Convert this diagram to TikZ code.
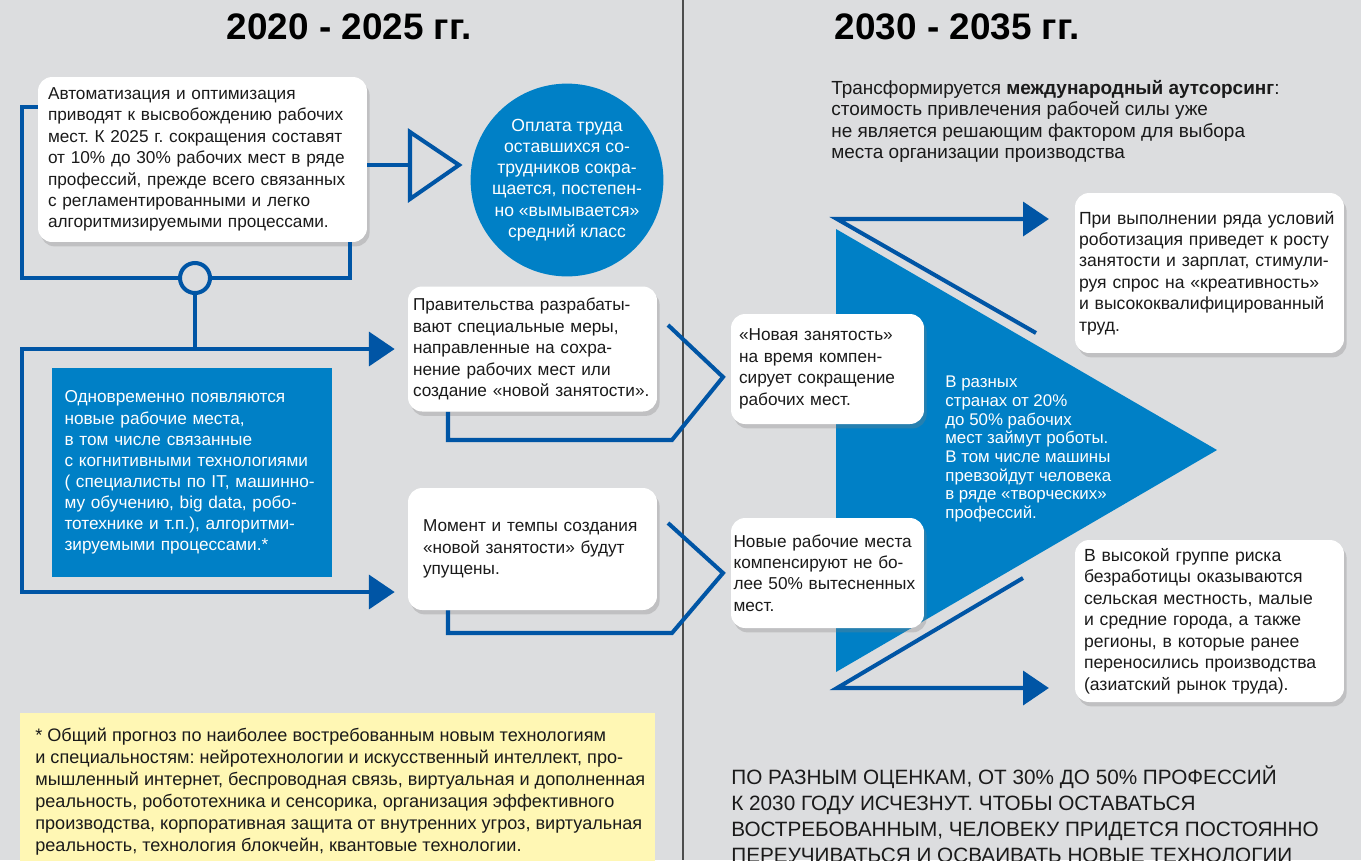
\documentclass[tikz,border=0pt]{standalone}
\usepackage{fontspec}
\setmainfont{Liberation Sans}
\usepackage{xcolor}
\usepackage{tikz}
\usetikzlibrary{shapes,arrows,arrows.meta,positioning,calc,shadows}
\definecolor{bggray}{HTML}{DCDDDF}
\definecolor{lineblue}{HTML}{0055A5}
\definecolor{fillblue}{HTML}{0080C6}
\definecolor{noteyellow}{HTML}{FFF7B4}
\definecolor{divgray}{HTML}{4D4D4D}
\definecolor{ink}{HTML}{1A1A1A}

\begin{document}
\frenchspacing
\begin{tikzpicture}[x=0.02cm,y=-0.02cm,
	link/.style={lineblue,line width=2.3pt},
	arrowline/.style={link,-{Triangle[length=14.7pt,width=19.3pt]},shorten >=7.4pt},
	card/.style={fill=white,text=ink,rounded corners=8pt,inner sep=0pt,align=left,
		font=\fontsize{9.8}{12.2}\selectfont,
		drop shadow={shadow xshift=1.5pt,shadow yshift=-2.5pt,opacity=0.3}},
	bluetext/.style={text=white,inner sep=0pt,align=left},
	yeartitle/.style={font=\fontsize{21}{25}\selectfont\bfseries}]
	\useasboundingbox (0,0) rectangle (1361,860);
	\fill[bggray] (0,0) rectangle (1361,860);
	\draw[divgray,line width=0.9pt] (683,0) -- (683,860);
	\node[yeartitle] (leftyears) at (349,27) {2020 - 2025 гг.};
	\node[yeartitle] (rightyears) at (957,27) {2030 - 2035 гг.};

	% left half
	\node[card,minimum width=6.58cm,minimum height=3.3cm,text width=6.18cm] (autom) at (202.5,159.5)
		{Автоматизация и оптимизация\\приводят к высвобождению рабочих\\мест. К 2025 г. сокращения составят\\от 10\% до 30\% рабочих мест в ряде\\профессий, прежде всего связанных\\с регламентированными и легко\\алгоритмизируемыми процессами.};
	\coordinate (opentip) at (410,165);
	\draw[link] (autom.east |- opentip) -- (opentip);
	\draw[link] (opentip) ++(0,-33) -- ++(0,67) -- ++(49,-34) -- cycle;
	\node[circle,fill=fillblue,text=white,minimum size=3.32cm,inner sep=0pt,align=center,
		font=\fontsize{10}{12.1}\selectfont] (pay) at (567,180)
		{Оплата труда\\оставшихся со-\\трудников сокра-\\щается, постепен-\\но «вымывается»\\средний класс};
	\node[circle,draw=lineblue,line width=2.3pt,fill=bggray,minimum size=0.6cm,inner sep=0pt] (ring) at (195,278) {};
	\draw[link] (autom.west |- 0,107) -| (22,278) -- (ring.west);
	\draw[link] (ring.east) -| (autom.south -| 350,0);
	\draw[link] (ring.south) -- (ring.south |- 0,349);
	\node[fill=fillblue,minimum width=5.6cm,minimum height=4.18cm,text width=5.1cm,bluetext,
		font=\fontsize{9.8}{12}\selectfont] (newjobs) at (192,472.5)
		{Одновременно появляются\\новые рабочие места,\\в том числе связанные\\с когнитивными технологиями\\( специалисты по IT, машинно-\\му обучению, big data, робо-\\тотехнике и т.п.), алгоритми-\\зируемыми процессами.*};
	\node[card,minimum width=4.98cm,minimum height=2.5cm,text width=4.78cm] (gov) at (532.5,349)
		{Правительства разрабаты-\\вают специальные меры,\\направленные на сохра-\\нение рабочих мест или\\создание «новой занятости».};
	\node[card,minimum width=4.98cm,minimum height=2.44cm,text width=4.38cm] (moment) at (532.5,549)
		{Момент и темпы создания\\«новой занятости» будут\\упущены.};
	\draw[arrowline] (22,592) -- (22,349) -- (gov.west);
	\draw[arrowline] (22,349) |- (moment.west |- 0,592);
	\coordinate (govtip) at (723,377);
	\coordinate (momenttip) at (723,573);
	\draw[link] (gov.south -| 448,0) |- (672,440) -- (govtip) -- (668,325);
	\draw[link] (moment.south -| 448,0) |- (672,633) -- (momenttip) -- (668,523);

	\fill[noteyellow] (20,713) rectangle (655,870);
	\node[anchor=north west,inner sep=0pt,align=left,text=ink,font=\fontsize{10.3}{12.5}\selectfont] (note) at (35,728)
		{* Общий прогноз по наиболее востребованным новым технологиям\\и специальностям: нейротехнологии и искусственный интеллект, про-\\мышленный интернет, беспроводная связь, виртуальная и дополненная\\реальность, робототехника и сенсорика, организация эффективного\\производства, корпоративная защита от внутренних угроз, виртуальная\\реальность, технология блокчейн, квантовые технологии.};

	% right half
	\node[anchor=north west,inner sep=0pt,align=left,text=ink,font=\fontsize{10.8}{12.2}\selectfont] (outsource) at (831,80)
		{Трансформируется \textbf{международный аутсорсинг}:\\стоимость привлечения рабочей силы уже\\не является решающим фактором для выбора\\места организации производства};
	\fill[fillblue] (836,229) -- (836,672) -- (1217,450) -- cycle;
	\node[bluetext,anchor=north west,font=\fontsize{9.6}{10.6}\selectfont] (robots) at (945,376)
		{В разных\\странах от 20\%\\до 50\% рабочих\\мест займут роботы.\\В том числе машины\\превзойдут человека\\в ряде «творческих»\\профессий.};
	\node[card,minimum width=3.86cm,minimum height=2.2cm,text width=3.54cm] (newemp) at (827.5,369)
		{«Новая занятость»\\на время компен-\\сирует сокращение\\рабочих мест.};
	\node[card,minimum width=3.86cm,minimum height=2.2cm,text width=3.76cm] (compens) at (827.5,573)
		{Новые рабочие места\\компенсируют не бо-\\лее 50\% вытесненных\\мест.};
	\node[card,minimum width=5.38cm,minimum height=3.2cm,text width=5.22cm,font=\fontsize{10}{12.2}\selectfont] (robot) at (1209.5,273)
		{При выполнении ряда условий\\роботизация приведет к росту\\занятости и зарплат, стимули-\\руя спрос на «креативность»\\и высококвалифицированный\\труд.};
	\node[card,minimum width=5.38cm,minimum height=3.24cm,text width=5.02cm,font=\fontsize{10}{12.2}\selectfont] (risk) at (1209.5,621)
		{В высокой группе риска\\безработицы оказываются\\сельская местность, малые\\и средние города, а также\\регионы, в которые ранее\\переносились производства\\(азиатский рынок труда).};
	\draw[arrowline,shorten >=14.7pt] (1036,333) -- (837,219) -- (robot.west |- 0,219);
	\draw[arrowline,shorten >=14.7pt] (1023,578) -- (837,688) -- (risk.west |- 0,688);
	\node[anchor=north west,inner sep=0pt,align=left,text=ink,font=\fontsize{11.8}{14.9}\selectfont] (forecast) at (731,765)
		{ПО РАЗНЫМ ОЦЕНКАМ, ОТ 30\% ДО 50\% ПРОФЕССИЙ\\К 2030 ГОДУ ИСЧЕЗНУТ. ЧТОБЫ ОСТАВАТЬСЯ\\ВОСТРЕБОВАННЫМ, ЧЕЛОВЕКУ ПРИДЕТСЯ ПОСТОЯННО\\ПЕРЕУЧИВАТЬСЯ И ОСВАИВАТЬ НОВЫЕ ТЕХНОЛОГИИ};
\end{tikzpicture}
\end{document}
